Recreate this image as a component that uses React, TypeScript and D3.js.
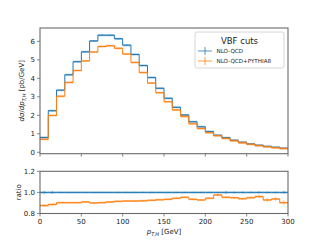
import React from "react"
import * as d3 from "d3"

// lower bin edges in GeV (bins are 10 GeV wide)
const binLo = [0, 10, 20, 30, 40, 50, 60, 70, 80, 90, 100, 110, 120, 130, 140, 150, 160, 170, 180, 190, 200, 210, 220, 230, 240, 250, 260, 270, 280, 290]

const nloQcd = [0.80, 2.25, 3.36, 4.19, 4.90, 5.43, 6.02, 6.33, 6.33, 6.14, 5.79, 5.29, 4.69, 4.04, 3.46, 2.92, 2.43, 2.02, 1.65, 1.38, 1.12, 0.92, 0.79, 0.65, 0.54, 0.45, 0.38, 0.32, 0.27, 0.22]
const nloPythia = [0.70, 1.99, 3.03, 3.78, 4.42, 4.94, 5.42, 5.72, 5.76, 5.62, 5.31, 4.86, 4.31, 3.74, 3.22, 2.73, 2.29, 1.93, 1.54, 1.28, 1.06, 0.90, 0.75, 0.62, 0.51, 0.43, 0.36, 0.30, 0.25, 0.20]

const ratioQcd = [1, 1, 1, 1, 1, 1, 1, 1, 1, 1, 1, 1, 1, 1, 1, 1, 1, 1, 1, 1, 1, 1, 1, 1, 1, 1, 1, 1, 1, 1]
const ratioPythia = [0.875, 0.885, 0.903, 0.903, 0.903, 0.91, 0.90, 0.903, 0.91, 0.915, 0.918, 0.918, 0.92, 0.925, 0.93, 0.934, 0.944, 0.953, 0.934, 0.928, 0.944, 0.975, 0.953, 0.95, 0.94, 0.95, 0.96, 0.928, 0.938, 0.903]

// relative errors
const errQcd = [0.015, 0.015, 0.006, 0.006, 0.006, 0.006, 0.006, 0.006, 0.006, 0.006, 0.006, 0.006, 0.006, 0.006, 0.006, 0.006, 0.006, 0.006, 0.006, 0.006, 0.006, 0.006, 0.015, 0.008, 0.008, 0.008, 0.01, 0.008, 0.008, 0.015]
const errPythia = [0.015, 0.012, 0.005, 0.005, 0.005, 0.005, 0.005, 0.005, 0.005, 0.005, 0.005, 0.005, 0.005, 0.005, 0.005, 0.005, 0.006, 0.006, 0.006, 0.008, 0.008, 0.012, 0.01, 0.01, 0.01, 0.012, 0.015, 0.02, 0.02, 0.025]

const xTicks = [0, 50, 100, 150, 200, 250, 300]
const yTicks = [0, 1, 2, 3, 4, 5, 6]
const rTicks = [0.8, 1.0, 1.2]

const blue = "#1f77b4"
const orange = "#ff7f0e"
const spine = "#6a6a6a"
const font = "DejaVu Sans, sans-serif"

const W = 320, H = 240
const x = d3.scaleLinear().domain([0, 300]).range([40, 288])
const y = d3.scaleLinear().domain([-0.076, 6.72]).range([153.7, 28])
const r = d3.scaleLinear().domain([0.8, 1.2]).range([213.5, 171.3])

function stepPath(vals: number[], ys: d3.ScaleLinear<number, number>) {
  const pts: [number, number][] = binLo.map((b, i) => [x(b), ys(vals[i])])
  pts.push([x(binLo[binLo.length - 1] + 10), ys(vals[vals.length - 1])])
  return d3.line().curve(d3.curveStepAfter)(pts) || ""
}

function Series({ vals, errs, ys, color }: { vals: number[], errs: number[], ys: d3.ScaleLinear<number, number>, color: string }) {
  return (
    <g>
      {binLo.map((b, i) => {
        const cx = x(b + 5)
        const e = Math.abs(vals[i] * errs[i])
        return (
          <g key={i} stroke={color} strokeOpacity={0.45} strokeWidth={2}>
            <line x1={x(b)} x2={x(b + 10)} y1={ys(vals[i])} y2={ys(vals[i])} />
            <line x1={cx} x2={cx} y1={ys(vals[i] - e)} y2={ys(vals[i] + e)} strokeWidth={1.2} />
          </g>
        )
      })}
      <path d={stepPath(vals, ys)} fill="none" stroke={color} strokeWidth={1} />
    </g>
  )
}

export default function App() {
  return (
    <svg width={W} height={H} style={{ position: "absolute", left: 0, top: 0, background: "#fff" }} fontFamily={font}>
      <defs>
        <clipPath id="mainClip"><rect x={40} y={28} width={248} height={125.7} /></clipPath>
        <clipPath id="ratioClip"><rect x={40} y={171.3} width={248} height={42.2} /></clipPath>
      </defs>

      {/* main panel */}
      <g clipPath="url(#mainClip)">
        <Series vals={nloQcd} errs={errQcd} ys={y} color={blue} />
        <Series vals={nloPythia} errs={errPythia} ys={y} color={orange} />
      </g>
      <rect x={40} y={28} width={248} height={125.7} fill="none" stroke={spine} strokeWidth={1.1} />
      {yTicks.map(t => (
        <g key={t}>
          <line x1={37} x2={40} y1={y(t)} y2={y(t)} stroke={spine} strokeWidth={0.8} />
          <text x={35} y={y(t) + 2.5} fontSize={7} textAnchor="end" fill="#222">{t}</text>
        </g>
      ))}
      {xTicks.map(t => (
        <line key={t} x1={x(t)} x2={x(t)} y1={153.7} y2={156.7} stroke={spine} strokeWidth={0.8} />
      ))}
      <text transform={`translate(24,90.8) rotate(-90)`} fontSize={7} textAnchor="middle" fill="#222">
        <tspan fontStyle="italic">d</tspan><tspan fontStyle="italic">σ</tspan>/<tspan fontStyle="italic">d</tspan><tspan fontStyle="italic">p</tspan><tspan fontSize={5} dy={1.5} fontStyle="italic">T,H</tspan><tspan dy={-1.5}> [pb/GeV]</tspan>
      </text>

      {/* legend */}
      <rect x={195} y={32} width={89} height={36} rx={2} fill="#fff" fillOpacity={0.85} stroke="#ccc" strokeWidth={0.8} />
      <text x={239.5} y={43.5} fontSize={8.5} textAnchor="middle" fill="#222">VBF cuts</text>
      {[{ c: blue, t: "NLO-QCD", yy: 51 }, { c: orange, t: "NLO-QCD+PYTHIA8", yy: 61 }].map(d => (
        <g key={d.t}>
          <g stroke={d.c} strokeOpacity={0.6} strokeWidth={1.3}>
            <line x1={198} x2={212} y1={d.yy} y2={d.yy} />
            <line x1={205} x2={205} y1={d.yy - 4} y2={d.yy + 4} />
          </g>
          <text x={216.5} y={d.yy + 2} fontSize={5.6} fill="#222">{d.t}</text>
        </g>
      ))}

      {/* ratio panel */}
      <g clipPath="url(#ratioClip)">
        <Series vals={ratioQcd} errs={errQcd} ys={r} color={blue} />
        <Series vals={ratioPythia} errs={errPythia} ys={r} color={orange} />
      </g>
      <rect x={40} y={171.3} width={248} height={42.2} fill="none" stroke={spine} strokeWidth={1.1} />
      {rTicks.map(t => (
        <g key={t}>
          <line x1={37} x2={40} y1={r(t)} y2={r(t)} stroke={spine} strokeWidth={0.8} />
          <text x={35} y={r(t) + 2.5} fontSize={7} textAnchor="end" fill="#222">{t.toFixed(1)}</text>
        </g>
      ))}
      {xTicks.map(t => (
        <g key={t}>
          <line x1={x(t)} x2={x(t)} y1={213.5} y2={216.5} stroke={spine} strokeWidth={0.8} />
          <text x={x(t)} y={223.5} fontSize={7} textAnchor="middle" fill="#222">{t}</text>
        </g>
      ))}
      <text transform={`translate(20.5,192.4) rotate(-90)`} fontSize={7} textAnchor="middle" fill="#222">ratio</text>
      <text x={164} y={234} fontSize={7} textAnchor="middle" fill="#222">
        <tspan fontStyle="italic">p</tspan><tspan fontSize={5} dy={1.5} fontStyle="italic">T,H</tspan><tspan dy={-1.5}> [GeV]</tspan>
      </text>
    </svg>
  )
}
